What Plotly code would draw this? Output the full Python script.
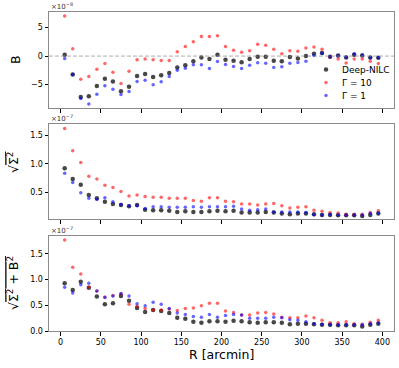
import plotly.graph_objects as go
from plotly.subplots import make_subplots

# Raio (arcmin)
R = [5, 15, 25, 35, 45, 55, 65, 75, 85, 95, 105, 115, 125, 135, 145, 155, 165,
     175, 185, 195, 205, 215, 225, 235, 245, 255, 265, 275, 285, 295, 305, 315,
     325, 335, 345, 355, 365, 375, 385, 395]

# Painel 1: B (x1e-8)
B_nilc = [0.24, -3.25, -7.2, -7.04, -5.27, -3.96, -4.44, -6.15, -5.38, -3.49, -3.14, -3.67, -3.37,
          -2.96, -2.0, -1.6, -0.89, -0.24, -0.53, 0.24, -0.65, -0.83, -1.07, -0.53, -0.12, -0.12,
          -0.83, -0.89, -0.18, -0.41, 0.0, 0.41, 0.53, -0.12, 0.1, -0.24, 0.24, 0.1, -0.24, -0.3]
B_g10 = [7.04, 1.30, -4.08, -3.6, -2.3, -1.3, -2.84, -4.8, -2.66, -0.65, -0.53, -0.65, -0.77,
         -0.77, 0.77, 1.66, 2.49, 3.43, 3.43, 3.55, 1.66, 1.0, 0.65, 0.95, 2.07, 1.89, 1.18, 0.41,
         0.95, 0.83, 1.42, 1.6, 1.18, -0.1, -0.5, -1.2, -0.5, -0.5, -0.9, -1.3]
B_g1 = [-0.41, -3.25, -7.46, -8.4, -6.7, -5.2, -5.8, -6.75, -6.2, -4.44, -4.26, -5.03, -4.5,
        -3.6, -2.49, -2.13, -1.54, -1.54, -2.19, -0.95, -1.48, -1.83, -2.19, -1.6, -1.18, -1.24,
        -2.0, -1.89, -1.24, -1.12, -0.89, 0.1, 0.5, -0.12, 0.06, -0.18, 0.41, 0.18, -0.3, -0.3]

# Painel 2: sqrt(Sigma^2) (x1e-7)
S_nilc = [0.92, 0.73, 0.63, 0.45, 0.39, 0.33, 0.29, 0.27, 0.25, 0.27, 0.19, 0.18, 0.18, 0.17,
          0.15, 0.16, 0.15, 0.15, 0.16, 0.17, 0.16, 0.17, 0.14, 0.14, 0.14, 0.15, 0.14, 0.12,
          0.11, 0.12, 0.12, 0.11, 0.095, 0.095, 0.09, 0.09, 0.09, 0.08, 0.095, 0.12]
S_g10 = [1.62, 1.23, 1.02, 0.78, 0.73, 0.62, 0.58, 0.51, 0.43, 0.45, 0.42, 0.41, 0.41, 0.39,
         0.39, 0.39, 0.35, 0.34, 0.40, 0.40, 0.34, 0.33, 0.29, 0.29, 0.27, 0.29, 0.30, 0.26,
         0.22, 0.23, 0.24, 0.18, 0.16, 0.14, 0.13, 0.11, 0.11, 0.11, 0.14, 0.17]
S_g1 = [0.83, 0.67, 0.49, 0.39, 0.37, 0.40, 0.33, 0.28, 0.26, 0.26, 0.21, 0.24, 0.24, 0.23,
        0.23, 0.23, 0.24, 0.23, 0.24, 0.24, 0.24, 0.25, 0.20, 0.18, 0.19, 0.20, 0.15, 0.15,
        0.15, 0.15, 0.14, 0.10, 0.095, 0.11, 0.095, 0.095, 0.095, 0.095, 0.12, 0.13]

# Painel 3: sqrt(Sigma^2 + B^2) (x1e-7)
T_nilc = [0.93, 0.80, 0.96, 0.84, 0.67, 0.52, 0.54, 0.68, 0.59, 0.45, 0.37, 0.41, 0.39, 0.35,
          0.26, 0.24, 0.18, 0.16, 0.19, 0.19, 0.18, 0.20, 0.19, 0.17, 0.16, 0.17, 0.17, 0.16,
          0.13, 0.14, 0.14, 0.13, 0.12, 0.12, 0.11, 0.11, 0.11, 0.09, 0.12, 0.14]
T_g10 = [1.77, 1.24, 1.11, 0.85, 0.78, 0.66, 0.69, 0.72, 0.52, 0.48, 0.44, 0.41, 0.41, 0.43,
         0.40, 0.44, 0.45, 0.49, 0.54, 0.54, 0.39, 0.36, 0.31, 0.31, 0.35, 0.36, 0.33, 0.27,
         0.26, 0.26, 0.29, 0.26, 0.21, 0.16, 0.16, 0.18, 0.14, 0.13, 0.17, 0.21]
T_g1 = [0.85, 0.74, 0.90, 0.93, 0.78, 0.65, 0.68, 0.73, 0.68, 0.53, 0.49, 0.56, 0.52, 0.44,
        0.35, 0.32, 0.28, 0.27, 0.32, 0.27, 0.30, 0.32, 0.31, 0.25, 0.25, 0.25, 0.27, 0.26,
        0.22, 0.21, 0.18, 0.14, 0.13, 0.12, 0.12, 0.12, 0.12, 0.12, 0.14, 0.16]

nomes = ["Deep-NILC", "Γ = 10", "Γ = 1"]
cores = ["rgba(0,0,0,0.72)", "rgba(255,0,0,0.6)", "rgba(0,0,255,0.6)"]
tamanhos = [4.5, 3.5, 3.5]

paineis = [(B_nilc, B_g10, B_g1), (S_nilc, S_g10, S_g1), (T_nilc, T_g10, T_g1)]

# geometria (pixels)
W, H = 399, 368
ML, MR, MT, MB = 49, 5, 12, 37
PW, PH = W - ML - MR, H - MT - MB


def px(x):
    return (x - ML) / PW


def py(y):
    return 1 - (y - MT) / PH


fig = make_subplots(rows=3, cols=1, shared_xaxes=True, vertical_spacing=0.05)
dominios = [[py(108), py(12)], [py(219), py(124)], [py(331), py(236)]]

for i, series in enumerate(paineis):
    for ys, nome, cor, tam in zip(series, nomes, cores, tamanhos):
        fig.add_trace(go.Scatter(x=R, y=ys, mode="markers", name=nome, showlegend=False,
                                 marker=dict(color=cor, size=tam, line=dict(width=0))),
                      row=i + 1, col=1)

fig.add_hline(y=0, line=dict(color="#888", width=0.7, dash="4px,2px"), row=1, col=1)

eixo = dict(showgrid=False, zeroline=False, showline=True, mirror=True, linecolor="#8a8a8a",
            linewidth=1, ticks="outside", ticklen=3.5, tickwidth=1, tickcolor="black",
            tickfont=dict(size=8, color="black"))

for i in range(3):
    fig.update_xaxes(eixo, range=[-14.5, 414.5], tickvals=[0, 50, 100, 150, 200, 250, 300, 350, 400],
                     showticklabels=(i == 2), row=i + 1, col=1)
fig.update_yaxes(eixo, range=[-9.11, 7.73], tickvals=[-5, 0, 5], row=1, col=1)
fig.update_yaxes(eixo, range=[0.025, 1.70], tickvals=[0.5, 1.0, 1.5], tickformat=".1f", row=2, col=1)
fig.update_yaxes(eixo, range=[0, 1.85], tickvals=[0, 0.5, 1.0, 1.5], tickformat=".1f", row=3, col=1)

fig.update_layout(yaxis=dict(domain=dominios[0]), yaxis2=dict(domain=dominios[1]),
                  yaxis3=dict(domain=dominios[2]))

P = dict(xref="paper", yref="paper", showarrow=False)
anot = []
# multiplicadores
for y, exp in [(6, "−8"), (118, "−7"), (230, "−7")]:
    anot.append(dict(P, x=px(49), y=py(y), text=f"×10<sup>{exp}</sup>",
                     xanchor="left", yanchor="middle", font=dict(size=7, color="#333")))
# rótulos
rot = dict(P, xanchor="center", yanchor="middle", textangle=-90, font=dict(size=12.5, color="black"))
anot.append(dict(rot, x=px(15), y=py(60), text="B"))
anot.append(dict(rot, x=px(13), y=py(163),
                 text="√<span style='text-decoration:overline'>Σ<sup>2</sup></span>"))
anot.append(dict(rot, x=px(13), y=py(283),
                 text="√<span style='text-decoration:overline'>Σ<sup>2</sup> + B<sup>2</sup></span>"))
anot.append(dict(P, x=px(221), y=py(354), xanchor="center", yanchor="middle", text="R [arcmin]",
                 font=dict(size=12.5, color="black")))

# legenda manual
formas = [dict(type="rect", xref="paper", yref="paper", x0=px(313), x1=px(391), y0=py(100), y1=py(63),
               fillcolor="rgba(255,255,255,0.8)", line=dict(color="#cccccc", width=1))]
for k, (nome, cor, tam) in enumerate(zip(nomes, cores, tamanhos)):
    yy = 69.5 + k * 13
    r = tam / 2
    formas.append(dict(type="circle", xref="paper", yref="paper", x0=px(326 - r), x1=px(326 + r),
                       y0=py(yy + r), y1=py(yy - r), fillcolor=cor, line=dict(width=0)))
    anot.append(dict(P, x=px(340), y=py(yy), text=nome, xanchor="left",
                     yanchor="middle", font=dict(size=9, color="black")))

fig.update_layout(width=W, height=H, margin=dict(l=ML, r=MR, t=MT, b=MB),
                  plot_bgcolor="white", paper_bgcolor="white",
                  font=dict(family="DejaVu Sans", color="black"),
                  annotations=anot, shapes=formas)

# tira a margem padrão do <body> para o gráfico ocupar a janela toda
fig.write_html("out.html", config={"displayModeBar": False},
               post_script="document.body.style.margin='0';")
